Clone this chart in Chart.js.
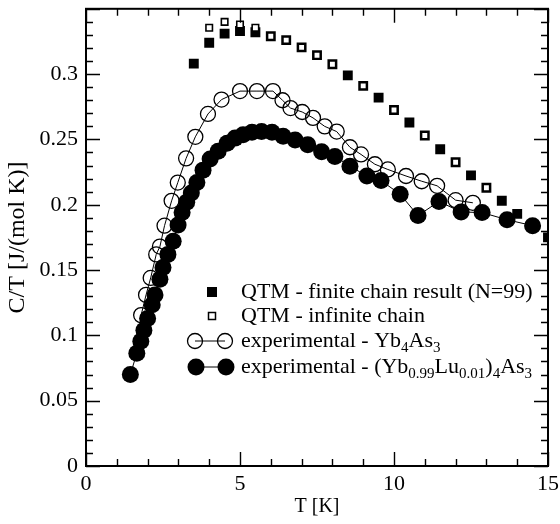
<!DOCTYPE html>
<html>
<head>
<meta charset="utf-8">
<script src="https://cdn.jsdelivr.net/npm/chart.js@4.4.0/dist/chart.umd.min.js"></script>
<style>
  html, body { margin: 0; padding: 0; background: #fff; }
</style>
</head>
<body>
<canvas id="chart" width="560" height="524"></canvas>
<script>
// --- data ---
const finiteT = [3.5, 4.0, 4.5, 5.0, 5.5, 6.0, 6.5, 7.0, 7.5, 8.0, 8.5, 9.0, 9.5, 10.0, 10.5, 11.0, 11.5, 12.0, 12.5, 13.0, 13.5, 14.0, 14.5, 15.0];
const finiteC = [0.308, 0.324, 0.331, 0.333, 0.332, 0.329, 0.326, 0.3205, 0.3145, 0.3075, 0.299, 0.291, 0.282, 0.2725, 0.263, 0.253, 0.2425, 0.2325, 0.2225, 0.213, 0.203, 0.193, 0.184, 0.175];

const infiniteT = [4.0, 4.5, 5.0, 5.5, 6.0, 6.5, 7.0, 7.5, 8.0, 9.0, 10.0, 11.0, 12.0, 13.0];
const infiniteC = [0.3355, 0.340, 0.338, 0.3355, 0.329, 0.326, 0.3205, 0.3145, 0.3075, 0.291, 0.2725, 0.253, 0.2325, 0.213];

const ybT = [1.79, 1.95, 2.1, 2.28, 2.4, 2.55, 2.78, 2.98, 3.25, 3.55, 3.96, 4.4, 5.0, 5.55, 6.07, 6.38, 6.64, 7.02, 7.37, 7.75, 8.14, 8.57, 8.93, 9.38, 9.8, 10.39, 10.9, 11.4, 12.0, 12.56];
const ybC = [0.1155, 0.131, 0.144, 0.162, 0.168, 0.184, 0.203, 0.217, 0.2355, 0.252, 0.2695, 0.2805, 0.287, 0.287, 0.287, 0.280, 0.274, 0.271, 0.2665, 0.260, 0.256, 0.244, 0.2385, 0.231, 0.227, 0.222, 0.218, 0.2145, 0.2035, 0.2015];

const luT = [1.44, 1.65, 1.78, 1.88, 2.0, 2.15, 2.24, 2.4, 2.5, 2.66, 2.83, 2.99, 3.12, 3.27, 3.42, 3.6, 3.8, 4.03, 4.29, 4.58, 4.84, 5.1, 5.39, 5.7, 6.04, 6.4, 6.79, 7.2, 7.65, 8.08, 8.57, 9.12, 9.58, 10.2, 10.78, 11.46, 12.18, 12.86, 13.67, 14.5];
const luC = [0.070, 0.0864, 0.0955, 0.104, 0.113, 0.1235, 0.131, 0.143, 0.152, 0.162, 0.172, 0.1845, 0.194, 0.202, 0.209, 0.217, 0.2265, 0.235, 0.241, 0.247, 0.251, 0.2535, 0.2555, 0.256, 0.2555, 0.2525, 0.2495, 0.246, 0.2405, 0.237, 0.2295, 0.222, 0.2185, 0.208, 0.1917, 0.2025, 0.1945, 0.194, 0.1885, 0.184];

const xTicks = [0, 5, 10, 15];
const yTicks = [0, 0.05, 0.1, 0.15, 0.2, 0.25, 0.3];

// legend text, pieces marked 'sub' are subscripts
const legendRows = [
  { sym: 'finite', parts: [['QTM - finite chain result (N=99)', '']] },
  { sym: 'infinite', parts: [['QTM - infinite chain', '']] },
  { sym: 'open', parts: [['experimental - Yb', ''], ['4', 'sub'], ['As', ''], ['3', 'sub']] },
  { sym: 'filled', parts: [['experimental - (Yb', ''], ['0.99', 'sub'], ['Lu', ''], ['0.01', 'sub'], [')', ''], ['4', 'sub'], ['As', ''], ['3', 'sub']] }
];

const toPts = (xs, ys) => xs.map((x, i) => ({ x: x, y: ys[i] }));
const FONT = 'Liberation Serif';

// inward ticks on all four sides + frame
const frameTicks = {
  id: 'frameTicks',
  afterDraw(chart) {
    const { ctx, chartArea: a, scales: { x, y } } = chart;
    ctx.save();
    ctx.strokeStyle = '#000';
    ctx.lineWidth = 1.4;
    ctx.beginPath();
    for (let v = 0; v <= 15; v += 1) {
      const px = Math.round(x.getPixelForValue(v)) + 0.5;
      const len = v % 5 === 0 ? 14 : 7;
      ctx.moveTo(px, a.bottom); ctx.lineTo(px, a.bottom - len);
      ctx.moveTo(px, a.top); ctx.lineTo(px, a.top + len);
    }
    for (let i = 0; i <= 35; i++) {
      const py = Math.round(y.getPixelForValue(i / 100)) + 0.5;
      const len = i % 5 === 0 ? 14 : 7;
      ctx.moveTo(a.left, py); ctx.lineTo(a.left + len, py);
      ctx.moveTo(a.right, py); ctx.lineTo(a.right - len, py);
    }
    ctx.stroke();
    ctx.lineWidth = 2;
    ctx.strokeRect(a.left, a.top, a.right - a.left, a.bottom - a.top);
    ctx.restore();
  }
};

// legend with subscripts
const subLegend = {
  id: 'subLegend',
  afterDraw(chart) {
    const ctx = chart.ctx;
    const rowY = [292, 316, 341, 367];
    const textX = 241;
    ctx.save();
    ctx.fillStyle = '#000';
    ctx.strokeStyle = '#000';
    legendRows.forEach((row, i) => {
      const cy = rowY[i];
      if (row.sym === 'finite') {
        ctx.fillRect(207, cy - 5, 10, 10);
      } else if (row.sym === 'infinite') {
        ctx.lineWidth = 1.5;
        ctx.strokeRect(208.5, cy - 3.5, 7, 7);
      } else if (row.sym === 'open') {
        ctx.lineWidth = 1;
        ctx.beginPath(); ctx.moveTo(195, cy); ctx.lineTo(225, cy); ctx.stroke();
        ctx.lineWidth = 1.3;
        [195, 225].forEach(cx => { ctx.beginPath(); ctx.arc(cx, cy, 7.5, 0, Math.PI * 2); ctx.stroke(); });
      } else {
        ctx.lineWidth = 1;
        ctx.beginPath(); ctx.moveTo(196, cy); ctx.lineTo(226, cy); ctx.stroke();
        [196, 226].forEach(cx => { ctx.beginPath(); ctx.arc(cx, cy, 8.5, 0, Math.PI * 2); ctx.fill(); });
      }
      let tx = textX;
      ctx.textBaseline = 'middle';
      row.parts.forEach(([txt, kind]) => {
        if (kind === 'sub') {
          ctx.font = '15px "' + FONT + '"';
          ctx.fillText(txt, tx, cy + 7);
        } else {
          ctx.font = '22px "' + FONT + '"';
          ctx.fillText(txt, tx, cy);
        }
        tx += ctx.measureText(txt).width;
      });
    });
    ctx.restore();
  }
};

new Chart(document.getElementById('chart'), {
  type: 'scatter',
  data: {
    datasets: [
      {
        label: 'experimental - (Yb0.99Lu0.01)4As3',
        data: toPts(luT, luC),
        showLine: true,
        borderColor: '#000',
        borderWidth: 1,
        pointStyle: 'circle',
        pointRadius: 8.5,
        pointBackgroundColor: '#000',
        pointBorderWidth: 0,
        order: 1
      },
      {
        label: 'experimental - Yb4As3',
        data: toPts(ybT, ybC),
        showLine: true,
        borderColor: '#000',
        borderWidth: 1,
        pointStyle: 'circle',
        pointRadius: 7.5,
        pointBackgroundColor: 'rgba(0,0,0,0)',
        pointBorderColor: '#000',
        pointBorderWidth: 1.3,
        order: 0
      },
      {
        label: 'QTM - infinite chain',
        data: toPts(infiniteT, infiniteC),
        showLine: false,
        pointStyle: 'rect',
        pointRadius: 4.6,
        pointBackgroundColor: '#fff',
        pointBorderColor: '#000',
        pointBorderWidth: 1.6,
        order: 2
      },
      {
        label: 'QTM - finite chain result (N=99)',
        data: toPts(finiteT, finiteC),
        showLine: false,
        pointStyle: 'rect',
        pointRadius: 7,
        pointBackgroundColor: '#000',
        pointBorderWidth: 0,
        order: 3
      }
    ]
  },
  options: {
    responsive: false,
    animation: false,
    layout: { padding: { top: 4, right: 12, left: 0, bottom: 0 } },
    plugins: { legend: { display: false }, tooltip: { enabled: false } },
    scales: {
      x: {
        type: 'linear',
        min: 0, max: 15,
        afterFit(s) { s.height = 58; s.paddingLeft = 0; s.paddingRight = 0; },
        afterBuildTicks(s) { s.ticks = xTicks.map(v => ({ value: v })); },
        grid: { display: false, drawTicks: false },
        border: { display: false },
        ticks: { padding: 5, color: '#000', font: { family: FONT, size: 22 } },
        title: { display: true, text: 'T [K]', color: '#000', font: { family: FONT, size: 20 }, padding: { top: 0, bottom: 5 } }
      },
      y: {
        type: 'linear',
        min: 0, max: 0.35,
        afterFit(s) { s.width = 86; s.paddingTop = 0; s.paddingBottom = 0; },
        afterBuildTicks(s) { s.ticks = yTicks.map(v => ({ value: v })); },
        grid: { display: false, drawTicks: false },
        border: { display: false },
        ticks: {
          padding: 8, color: '#000', font: { family: FONT, size: 22 },
          callback: v => String(parseFloat(v.toFixed(2)))
        },
        title: { display: true, text: 'C/T [J/(mol K)]', color: '#000', font: { family: FONT, size: 24 }, padding: { top: 3, bottom: 0 } }
      }
    }
  },
  plugins: [frameTicks, subLegend]
});
</script>
</body>
</html>
